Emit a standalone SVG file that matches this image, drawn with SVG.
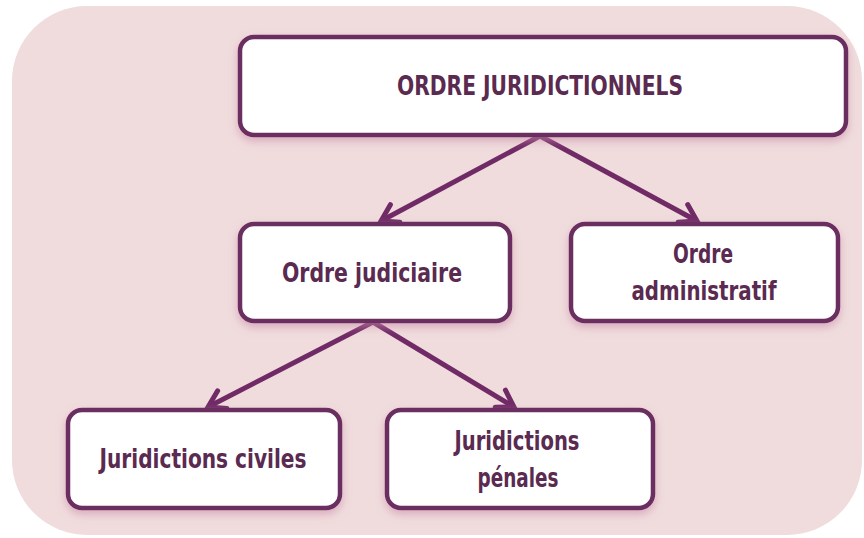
<svg xmlns="http://www.w3.org/2000/svg" width="864" height="538" viewBox="0 0 864 538">
  <style>
    .node rect { fill: #ffffff; stroke: #6b2d60; stroke-width: 4.5; filter: url(#glow); }
    .lbl { font-family: "DejaVu Sans Condensed", "DejaVu Sans", "Liberation Sans", sans-serif; font-weight: bold; fill: #5a2a50; text-anchor: middle; font-size: 27px; }
    .conn line { stroke: #702a66; stroke-width: 5; marker-end: url(#arr); }
  </style>
  <defs>
    <filter id="glow" x="-10%" y="-20%" width="120%" height="150%">
      <feDropShadow dx="0" dy="4" stdDeviation="4" flood-color="#c98aa8" flood-opacity="0.6"/>
    </filter>
    <marker id="arr" markerUnits="userSpaceOnUse" markerWidth="30" markerHeight="30" viewBox="-20 -15 30 30" refX="0" refY="0" orient="auto">
      <path d="M-16,-10 L0,0 L-16,10" fill="none" stroke="#702a66" stroke-width="5" stroke-linejoin="miter" stroke-linecap="round"/>
    </marker>
  </defs>
  <rect width="864" height="538" fill="#ffffff"/>
  <rect x="12" y="6" width="850" height="529" rx="75" ry="75" fill="#f0dcdd"/>

  <g id="connectors" class="conn">
    <line x1="540" y1="136" x2="381" y2="221"/>
    <line x1="540" y1="136" x2="697" y2="221"/>
    <line x1="373" y1="322" x2="208" y2="407"/>
    <line x1="373" y1="322" x2="514" y2="407"/>
  </g>

  <g id="node-ordre-juridictionnels" class="node">
    <rect x="240" y="37" width="606" height="98" rx="14"/>
    <text class="lbl" x="540" y="95" textLength="286" lengthAdjust="spacingAndGlyphs">ORDRE JURIDICTIONNELS</text>
  </g>
  <g id="node-ordre-judiciaire" class="node">
    <rect x="240" y="224" width="270" height="97" rx="14"/>
    <text class="lbl" x="372" y="282" textLength="180" lengthAdjust="spacingAndGlyphs">Ordre judiciaire</text>
  </g>
  <g id="node-ordre-administratif" class="node">
    <rect x="571" y="224" width="267" height="97" rx="14"/>
    <text class="lbl" x="703" y="263" textLength="60" lengthAdjust="spacingAndGlyphs">Ordre</text>
    <text class="lbl" x="704" y="300" textLength="145" lengthAdjust="spacingAndGlyphs">administratif</text>
  </g>
  <g id="node-juridictions-civiles" class="node">
    <rect x="68" y="410" width="272" height="98" rx="14"/>
    <text class="lbl" x="203" y="468" textLength="207" lengthAdjust="spacingAndGlyphs">Juridictions civiles</text>
  </g>
  <g id="node-juridictions-penales" class="node">
    <rect x="387" y="410" width="266" height="98" rx="14"/>
    <text class="lbl" x="517" y="450" textLength="125" lengthAdjust="spacingAndGlyphs">Juridictions</text>
    <text class="lbl" x="518" y="487" textLength="81" lengthAdjust="spacingAndGlyphs">pénales</text>
  </g>
</svg>
